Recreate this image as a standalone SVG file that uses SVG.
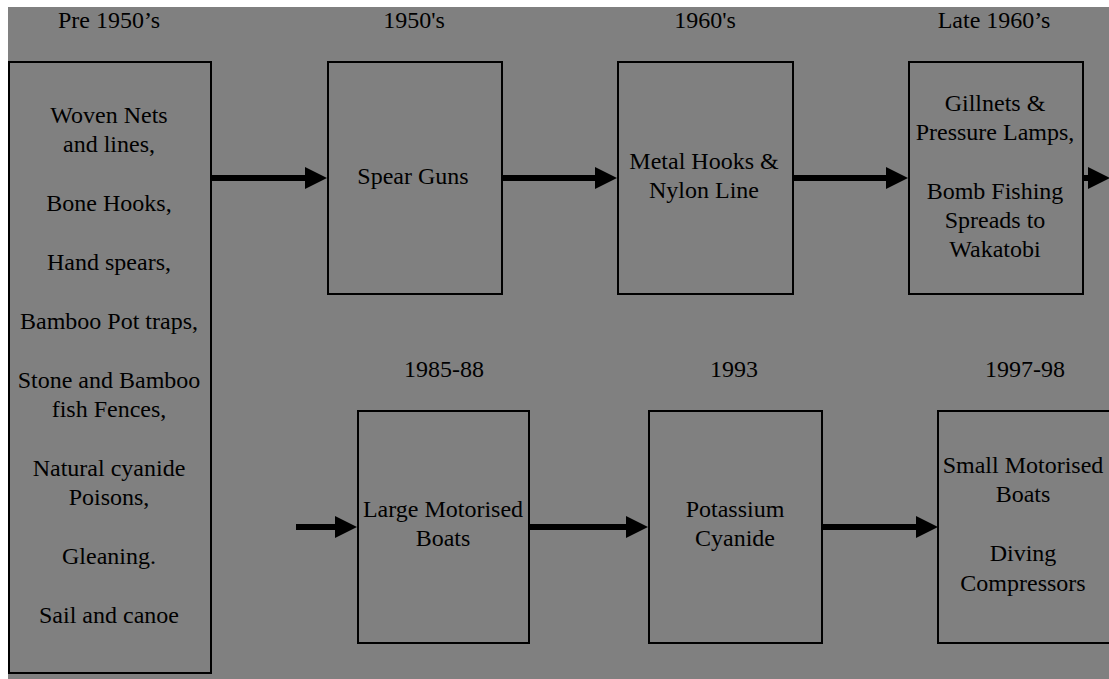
<svg xmlns="http://www.w3.org/2000/svg" width="1109" height="679" viewBox="0 0 1109 679">
<style>
text{font-family:"Liberation Serif","Times New Roman",serif;font-size:24px;fill:#000;text-anchor:middle}
.box{fill:none;stroke:#000;stroke-width:2}
.arr{stroke:#000;stroke-width:6;fill:none}
</style>
<defs>
<marker id="ah" markerUnits="userSpaceOnUse" markerWidth="22" markerHeight="22" refX="0" refY="11" orient="auto" viewBox="0 0 22 22">
<path d="M0,0 L22,11 L0,22 Z" fill="#000"/>
</marker>
</defs>
<rect x="0" y="0" width="1109" height="679" fill="#fff"/>
<rect x="8" y="7" width="1101" height="672" fill="#808080"/>
<g id="labels">
<text x="109" y="28">Pre 1950’s</text>
<text x="414" y="28">1950's</text>
<text x="705" y="28">1960's</text>
<text x="994" y="28">Late 1960’s</text>
<text x="444" y="377">1985-88</text>
<text x="734" y="377">1993</text>
<text x="1025" y="377">1997-98</text>
</g>
<g id="pre1950">
<rect class="box" x="9" y="62" width="202" height="611"/>
<text x="109" y="123">Woven Nets</text>
<text x="109" y="152">and lines,</text>
<text x="109" y="211">Bone Hooks,</text>
<text x="109" y="270">Hand spears,</text>
<text x="109" y="329">Bamboo Pot traps,</text>
<text x="109" y="388">Stone and Bamboo</text>
<text x="109" y="417">fish Fences,</text>
<text x="109" y="476">Natural cyanide</text>
<text x="109" y="505">Poisons,</text>
<text x="109" y="564">Gleaning.</text>
<text x="109" y="623">Sail and canoe</text>
</g>
<g id="spearguns">
<rect class="box" x="328" y="62" width="174" height="232"/>
<text x="413" y="184">Spear Guns</text>
</g>
<g id="metalhooks">
<rect class="box" x="618" y="62" width="175" height="232"/>
<text x="704" y="169">Metal Hooks &amp;</text>
<text x="704" y="198">Nylon Line</text>
</g>
<g id="gillnets">
<rect class="box" x="909" y="62" width="174" height="232"/>
<text x="995" y="111">Gillnets &amp;</text>
<text x="995" y="140">Pressure Lamps,</text>
<text x="995" y="199">Bomb Fishing</text>
<text x="995" y="228">Spreads to</text>
<text x="995" y="257">Wakatobi</text>
</g>
<g id="largeboats">
<rect class="box" x="358" y="411" width="171" height="232"/>
<text x="443" y="517">Large Motorised</text>
<text x="443" y="546">Boats</text>
</g>
<g id="cyanide">
<rect class="box" x="649" y="411" width="173" height="232"/>
<text x="735" y="517">Potassium</text>
<text x="735" y="546">Cyanide</text>
</g>
<g id="smallboats">
<rect class="box" x="938" y="411" width="180" height="232"/>
<text x="1023" y="473">Small Motorised</text>
<text x="1023" y="502">Boats</text>
<text x="1023" y="561">Diving</text>
<text x="1023" y="591">Compressors</text>
</g>
<g id="connectors">
<line class="arr" x1="210" y1="178" x2="305" y2="178" marker-end="url(#ah)"/>
<line class="arr" x1="501" y1="178" x2="595" y2="178" marker-end="url(#ah)"/>
<line class="arr" x1="792" y1="178" x2="886" y2="178" marker-end="url(#ah)"/>
<line class="arr" x1="1082" y1="178" x2="1088" y2="178" marker-end="url(#ah)"/>
<line class="arr" x1="296" y1="527" x2="335" y2="527" marker-end="url(#ah)"/>
<line class="arr" x1="529" y1="527" x2="626" y2="527" marker-end="url(#ah)"/>
<line class="arr" x1="822" y1="527" x2="916" y2="527" marker-end="url(#ah)"/>
</g>
</svg>
